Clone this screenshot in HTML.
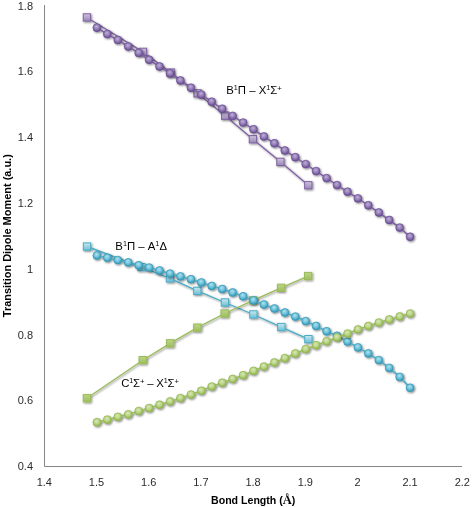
<!DOCTYPE html>
<html><head><meta charset="utf-8"><title>chart</title>
<style>
html,body{margin:0;padding:0;background:#fff;}
body{width:473px;height:507px;overflow:hidden;font-family:"Liberation Sans",sans-serif;}
svg{display:block;}
text{font-family:"Liberation Sans",sans-serif;fill:#222;}
.tx{opacity:0.999;}
.tk{font-size:11px;fill:#2b2b2b;}
.lb{font-size:11.7px;fill:#000;}
.ti{font-size:10.6px;font-weight:bold;fill:#000;}
</style></head><body>
<svg width="473" height="507" viewBox="0 0 473 507">
<defs>
<radialGradient id="cp" cx="0.45" cy="0.36" r="0.62"><stop offset="0" stop-color="#bfb1d5"/><stop offset="0.55" stop-color="#927bb5"/><stop offset="1" stop-color="#694d92"/></radialGradient>
<linearGradient id="sp" x1="0" y1="0" x2="0" y2="1"><stop offset="0" stop-color="#cdc3dc"/><stop offset="1" stop-color="#9a86b9"/></linearGradient>
<radialGradient id="cb" cx="0.45" cy="0.36" r="0.62"><stop offset="0" stop-color="#b2e1ee"/><stop offset="0.55" stop-color="#69c1da"/><stop offset="1" stop-color="#3896b4"/></radialGradient>
<linearGradient id="sb" x1="0" y1="0" x2="0" y2="1"><stop offset="0" stop-color="#c9e8ef"/><stop offset="1" stop-color="#6cbfd6"/></linearGradient>
<radialGradient id="cg" cx="0.45" cy="0.36" r="0.62"><stop offset="0" stop-color="#d8e8b9"/><stop offset="0.55" stop-color="#b7d382"/><stop offset="1" stop-color="#90b34f"/></radialGradient>
<linearGradient id="sg" x1="0" y1="0" x2="0" y2="1"><stop offset="0" stop-color="#bcd48a"/><stop offset="1" stop-color="#9dbe5c"/></linearGradient>
<filter id="sh" x="-20%" y="-20%" width="150%" height="150%"><feGaussianBlur in="SourceAlpha" stdDeviation="1.15"/><feOffset dx="0.8" dy="1.4"/><feComponentTransfer><feFuncA type="linear" slope="0.5"/></feComponentTransfer><feMerge><feMergeNode/><feMergeNode in="SourceGraphic"/></feMerge></filter>
</defs>
<rect width="473" height="507" fill="#fff"/>
<path d="M44.5 5V466.5H462" fill="none" stroke="#868686" stroke-width="1"/>
<g class="tx">
<text class="tk" x="33" y="9.55" text-anchor="end">1.8</text>
<text class="tk" x="33" y="75.36" text-anchor="end">1.6</text>
<text class="tk" x="33" y="141.18" text-anchor="end">1.4</text>
<text class="tk" x="33" y="206.99" text-anchor="end">1.2</text>
<text class="tk" x="33" y="272.81" text-anchor="end">1</text>
<text class="tk" x="33" y="338.62" text-anchor="end">0.8</text>
<text class="tk" x="33" y="404.44" text-anchor="end">0.6</text>
<text class="tk" x="33" y="470.25" text-anchor="end">0.4</text>
<text class="tk" x="44.30" y="486.2" text-anchor="middle">1.4</text>
<text class="tk" x="96.50" y="486.2" text-anchor="middle">1.5</text>
<text class="tk" x="148.70" y="486.2" text-anchor="middle">1.6</text>
<text class="tk" x="200.90" y="486.2" text-anchor="middle">1.7</text>
<text class="tk" x="253.10" y="486.2" text-anchor="middle">1.8</text>
<text class="tk" x="305.30" y="486.2" text-anchor="middle">1.9</text>
<text class="tk" x="357.50" y="486.2" text-anchor="middle">2</text>
<text class="tk" x="410.10" y="486.2" text-anchor="middle">2.1</text>
<text class="tk" x="462.30" y="486.2" text-anchor="middle">2.2</text>
<text class="ti" style="font-size:11px" transform="translate(10.7,235.7) rotate(-90)" text-anchor="middle" textLength="163" lengthAdjust="spacing">Transition Dipole Moment (a.u.)</text>
<text class="ti" x="253.2" y="504.1" text-anchor="middle">Bond Length (<tspan font-family="Liberation Serif" font-size="12.5px">Å</tspan>)</text>
</g>
<g filter="url(#sh)"><polyline fill="none" stroke="#8064A2" stroke-width="1.35" points="86.9,17.5 142.9,51.9 170.7,72.5 197.5,93.3 225.1,115.8 252.9,139.2 280.4,161.8 308.3,185.2"/><rect x="83.25" y="13.80" width="7.3" height="7.3" fill="url(#sp)" stroke="#8064A2" stroke-width="1"/><rect x="139.25" y="48.20" width="7.3" height="7.3" fill="url(#sp)" stroke="#8064A2" stroke-width="1"/><rect x="167.05" y="68.90" width="7.3" height="7.3" fill="url(#sp)" stroke="#8064A2" stroke-width="1"/><rect x="193.85" y="89.70" width="7.3" height="7.3" fill="url(#sp)" stroke="#8064A2" stroke-width="1"/><rect x="221.45" y="112.10" width="7.3" height="7.3" fill="url(#sp)" stroke="#8064A2" stroke-width="1"/><rect x="249.25" y="135.60" width="7.3" height="7.3" fill="url(#sp)" stroke="#8064A2" stroke-width="1"/><rect x="276.75" y="158.20" width="7.3" height="7.3" fill="url(#sp)" stroke="#8064A2" stroke-width="1"/><rect x="304.65" y="181.60" width="7.3" height="7.3" fill="url(#sp)" stroke="#8064A2" stroke-width="1"/></g>
<g filter="url(#sh)"><polyline fill="none" stroke="#4BACC6" stroke-width="1.35" points="87.0,246.5 141.5,267.1 169.9,278.4 197.3,290.9 224.9,302.5 253.4,314.5 281.3,327.1 308.4,339.2"/><rect x="83.35" y="242.90" width="7.3" height="7.3" fill="url(#sb)" stroke="#4BACC6" stroke-width="1"/><rect x="137.85" y="263.40" width="7.3" height="7.3" fill="url(#sb)" stroke="#4BACC6" stroke-width="1"/><rect x="166.25" y="274.70" width="7.3" height="7.3" fill="url(#sb)" stroke="#4BACC6" stroke-width="1"/><rect x="193.65" y="287.20" width="7.3" height="7.3" fill="url(#sb)" stroke="#4BACC6" stroke-width="1"/><rect x="221.25" y="298.80" width="7.3" height="7.3" fill="url(#sb)" stroke="#4BACC6" stroke-width="1"/><rect x="249.75" y="310.80" width="7.3" height="7.3" fill="url(#sb)" stroke="#4BACC6" stroke-width="1"/><rect x="277.65" y="323.40" width="7.3" height="7.3" fill="url(#sb)" stroke="#4BACC6" stroke-width="1"/><rect x="304.75" y="335.50" width="7.3" height="7.3" fill="url(#sb)" stroke="#4BACC6" stroke-width="1"/></g>
<g filter="url(#sh)"><polyline fill="none" stroke="#9BBB59" stroke-width="1.35" points="86.9,398.2 142.7,360.2 170.1,343.4 197.3,327.7 224.6,313.5 253.1,300.4 281.0,287.9 308.1,276.1"/><rect x="83.25" y="394.60" width="7.3" height="7.3" fill="url(#sg)" stroke="#9BBB59" stroke-width="1"/><rect x="139.05" y="356.50" width="7.3" height="7.3" fill="url(#sg)" stroke="#9BBB59" stroke-width="1"/><rect x="166.45" y="339.70" width="7.3" height="7.3" fill="url(#sg)" stroke="#9BBB59" stroke-width="1"/><rect x="193.65" y="324.00" width="7.3" height="7.3" fill="url(#sg)" stroke="#9BBB59" stroke-width="1"/><rect x="220.95" y="309.80" width="7.3" height="7.3" fill="url(#sg)" stroke="#9BBB59" stroke-width="1"/><rect x="249.45" y="296.70" width="7.3" height="7.3" fill="url(#sg)" stroke="#9BBB59" stroke-width="1"/><rect x="277.35" y="284.20" width="7.3" height="7.3" fill="url(#sg)" stroke="#9BBB59" stroke-width="1"/><rect x="304.45" y="272.40" width="7.3" height="7.3" fill="url(#sg)" stroke="#9BBB59" stroke-width="1"/></g>
<g filter="url(#sh)"><polyline fill="none" stroke="#8064A2" stroke-width="1.6" points="96.9,27.7 107.3,34.1 117.8,40.0 128.2,46.5 138.7,52.9 149.1,59.8 159.5,66.5 170.0,73.4 180.4,80.5 190.9,87.7 201.3,94.6 211.7,101.7 222.2,108.8 232.6,115.9 243.1,122.6 253.5,129.3 263.9,136.5 274.4,143.3 284.8,150.5 295.3,157.2 305.7,164.1 316.1,171.1 326.6,178.1 337.0,185.1 347.5,191.7 357.9,198.4 368.3,205.3 378.8,212.5 389.2,220.0 399.7,227.6 410.1,236.8"/><circle cx="96.9" cy="27.7" r="3.95" fill="url(#cp)" stroke="#694d92" stroke-width="0.7"/><circle cx="107.3" cy="34.1" r="3.95" fill="url(#cp)" stroke="#694d92" stroke-width="0.7"/><circle cx="117.8" cy="40.0" r="3.95" fill="url(#cp)" stroke="#694d92" stroke-width="0.7"/><circle cx="128.2" cy="46.5" r="3.95" fill="url(#cp)" stroke="#694d92" stroke-width="0.7"/><circle cx="138.7" cy="52.9" r="3.95" fill="url(#cp)" stroke="#694d92" stroke-width="0.7"/><circle cx="149.1" cy="59.8" r="3.95" fill="url(#cp)" stroke="#694d92" stroke-width="0.7"/><circle cx="159.5" cy="66.5" r="3.95" fill="url(#cp)" stroke="#694d92" stroke-width="0.7"/><circle cx="170.0" cy="73.4" r="3.95" fill="url(#cp)" stroke="#694d92" stroke-width="0.7"/><circle cx="180.4" cy="80.5" r="3.95" fill="url(#cp)" stroke="#694d92" stroke-width="0.7"/><circle cx="190.9" cy="87.7" r="3.95" fill="url(#cp)" stroke="#694d92" stroke-width="0.7"/><circle cx="201.3" cy="94.6" r="3.95" fill="url(#cp)" stroke="#694d92" stroke-width="0.7"/><circle cx="211.7" cy="101.7" r="3.95" fill="url(#cp)" stroke="#694d92" stroke-width="0.7"/><circle cx="222.2" cy="108.8" r="3.95" fill="url(#cp)" stroke="#694d92" stroke-width="0.7"/><circle cx="232.6" cy="115.9" r="3.95" fill="url(#cp)" stroke="#694d92" stroke-width="0.7"/><circle cx="243.1" cy="122.6" r="3.95" fill="url(#cp)" stroke="#694d92" stroke-width="0.7"/><circle cx="253.5" cy="129.3" r="3.95" fill="url(#cp)" stroke="#694d92" stroke-width="0.7"/><circle cx="263.9" cy="136.5" r="3.95" fill="url(#cp)" stroke="#694d92" stroke-width="0.7"/><circle cx="274.4" cy="143.3" r="3.95" fill="url(#cp)" stroke="#694d92" stroke-width="0.7"/><circle cx="284.8" cy="150.5" r="3.95" fill="url(#cp)" stroke="#694d92" stroke-width="0.7"/><circle cx="295.3" cy="157.2" r="3.95" fill="url(#cp)" stroke="#694d92" stroke-width="0.7"/><circle cx="305.7" cy="164.1" r="3.95" fill="url(#cp)" stroke="#694d92" stroke-width="0.7"/><circle cx="316.1" cy="171.1" r="3.95" fill="url(#cp)" stroke="#694d92" stroke-width="0.7"/><circle cx="326.6" cy="178.1" r="3.95" fill="url(#cp)" stroke="#694d92" stroke-width="0.7"/><circle cx="337.0" cy="185.1" r="3.95" fill="url(#cp)" stroke="#694d92" stroke-width="0.7"/><circle cx="347.5" cy="191.7" r="3.95" fill="url(#cp)" stroke="#694d92" stroke-width="0.7"/><circle cx="357.9" cy="198.4" r="3.95" fill="url(#cp)" stroke="#694d92" stroke-width="0.7"/><circle cx="368.3" cy="205.3" r="3.95" fill="url(#cp)" stroke="#694d92" stroke-width="0.7"/><circle cx="378.8" cy="212.5" r="3.95" fill="url(#cp)" stroke="#694d92" stroke-width="0.7"/><circle cx="389.2" cy="220.0" r="3.95" fill="url(#cp)" stroke="#694d92" stroke-width="0.7"/><circle cx="399.7" cy="227.6" r="3.95" fill="url(#cp)" stroke="#694d92" stroke-width="0.7"/><circle cx="410.1" cy="236.8" r="3.95" fill="url(#cp)" stroke="#694d92" stroke-width="0.7"/></g>
<g filter="url(#sh)"><polyline fill="none" stroke="#4BACC6" stroke-width="1.6" points="96.9,255.5 107.3,257.8 117.8,260.1 128.2,262.4 138.7,265.3 149.1,267.6 159.5,270.5 170.0,273.6 180.4,276.4 190.9,279.2 201.3,282.5 211.7,285.9 222.2,289.0 232.6,292.5 243.1,296.3 253.5,300.4 263.9,304.5 274.4,308.5 284.8,312.5 295.3,316.6 305.7,321.1 316.1,325.9 326.6,331.3 337.0,335.8 347.5,341.6 357.9,347.4 368.3,353.4 378.8,360.1 389.2,367.9 399.7,376.9 410.1,387.8"/><circle cx="96.9" cy="255.5" r="3.95" fill="url(#cb)" stroke="#3896b4" stroke-width="0.7"/><circle cx="107.3" cy="257.8" r="3.95" fill="url(#cb)" stroke="#3896b4" stroke-width="0.7"/><circle cx="117.8" cy="260.1" r="3.95" fill="url(#cb)" stroke="#3896b4" stroke-width="0.7"/><circle cx="128.2" cy="262.4" r="3.95" fill="url(#cb)" stroke="#3896b4" stroke-width="0.7"/><circle cx="138.7" cy="265.3" r="3.95" fill="url(#cb)" stroke="#3896b4" stroke-width="0.7"/><circle cx="149.1" cy="267.6" r="3.95" fill="url(#cb)" stroke="#3896b4" stroke-width="0.7"/><circle cx="159.5" cy="270.5" r="3.95" fill="url(#cb)" stroke="#3896b4" stroke-width="0.7"/><circle cx="170.0" cy="273.6" r="3.95" fill="url(#cb)" stroke="#3896b4" stroke-width="0.7"/><circle cx="180.4" cy="276.4" r="3.95" fill="url(#cb)" stroke="#3896b4" stroke-width="0.7"/><circle cx="190.9" cy="279.2" r="3.95" fill="url(#cb)" stroke="#3896b4" stroke-width="0.7"/><circle cx="201.3" cy="282.5" r="3.95" fill="url(#cb)" stroke="#3896b4" stroke-width="0.7"/><circle cx="211.7" cy="285.9" r="3.95" fill="url(#cb)" stroke="#3896b4" stroke-width="0.7"/><circle cx="222.2" cy="289.0" r="3.95" fill="url(#cb)" stroke="#3896b4" stroke-width="0.7"/><circle cx="232.6" cy="292.5" r="3.95" fill="url(#cb)" stroke="#3896b4" stroke-width="0.7"/><circle cx="243.1" cy="296.3" r="3.95" fill="url(#cb)" stroke="#3896b4" stroke-width="0.7"/><circle cx="253.5" cy="300.4" r="3.95" fill="url(#cb)" stroke="#3896b4" stroke-width="0.7"/><circle cx="263.9" cy="304.5" r="3.95" fill="url(#cb)" stroke="#3896b4" stroke-width="0.7"/><circle cx="274.4" cy="308.5" r="3.95" fill="url(#cb)" stroke="#3896b4" stroke-width="0.7"/><circle cx="284.8" cy="312.5" r="3.95" fill="url(#cb)" stroke="#3896b4" stroke-width="0.7"/><circle cx="295.3" cy="316.6" r="3.95" fill="url(#cb)" stroke="#3896b4" stroke-width="0.7"/><circle cx="305.7" cy="321.1" r="3.95" fill="url(#cb)" stroke="#3896b4" stroke-width="0.7"/><circle cx="316.1" cy="325.9" r="3.95" fill="url(#cb)" stroke="#3896b4" stroke-width="0.7"/><circle cx="326.6" cy="331.3" r="3.95" fill="url(#cb)" stroke="#3896b4" stroke-width="0.7"/><circle cx="337.0" cy="335.8" r="3.95" fill="url(#cb)" stroke="#3896b4" stroke-width="0.7"/><circle cx="347.5" cy="341.6" r="3.95" fill="url(#cb)" stroke="#3896b4" stroke-width="0.7"/><circle cx="357.9" cy="347.4" r="3.95" fill="url(#cb)" stroke="#3896b4" stroke-width="0.7"/><circle cx="368.3" cy="353.4" r="3.95" fill="url(#cb)" stroke="#3896b4" stroke-width="0.7"/><circle cx="378.8" cy="360.1" r="3.95" fill="url(#cb)" stroke="#3896b4" stroke-width="0.7"/><circle cx="389.2" cy="367.9" r="3.95" fill="url(#cb)" stroke="#3896b4" stroke-width="0.7"/><circle cx="399.7" cy="376.9" r="3.95" fill="url(#cb)" stroke="#3896b4" stroke-width="0.7"/><circle cx="410.1" cy="387.8" r="3.95" fill="url(#cb)" stroke="#3896b4" stroke-width="0.7"/></g>
<g filter="url(#sh)"><polyline fill="none" stroke="#9BBB59" stroke-width="1.6" points="96.9,422.3 107.3,419.7 117.8,416.9 128.2,414.4 138.7,411.1 149.1,408.1 159.5,404.8 170.0,401.5 180.4,398.2 190.9,394.6 201.3,390.8 211.7,386.6 222.2,382.8 232.6,379.0 243.1,375.2 253.5,370.9 263.9,366.6 274.4,362.5 284.8,358.2 295.3,353.5 305.7,349.1 316.1,345.2 326.6,341.3 337.0,337.4 347.5,333.6 357.9,329.5 368.3,326.0 378.8,322.6 389.2,319.5 399.7,316.5 410.1,313.6"/><circle cx="96.9" cy="422.3" r="3.95" fill="url(#cg)" stroke="#90b34f" stroke-width="0.7"/><circle cx="107.3" cy="419.7" r="3.95" fill="url(#cg)" stroke="#90b34f" stroke-width="0.7"/><circle cx="117.8" cy="416.9" r="3.95" fill="url(#cg)" stroke="#90b34f" stroke-width="0.7"/><circle cx="128.2" cy="414.4" r="3.95" fill="url(#cg)" stroke="#90b34f" stroke-width="0.7"/><circle cx="138.7" cy="411.1" r="3.95" fill="url(#cg)" stroke="#90b34f" stroke-width="0.7"/><circle cx="149.1" cy="408.1" r="3.95" fill="url(#cg)" stroke="#90b34f" stroke-width="0.7"/><circle cx="159.5" cy="404.8" r="3.95" fill="url(#cg)" stroke="#90b34f" stroke-width="0.7"/><circle cx="170.0" cy="401.5" r="3.95" fill="url(#cg)" stroke="#90b34f" stroke-width="0.7"/><circle cx="180.4" cy="398.2" r="3.95" fill="url(#cg)" stroke="#90b34f" stroke-width="0.7"/><circle cx="190.9" cy="394.6" r="3.95" fill="url(#cg)" stroke="#90b34f" stroke-width="0.7"/><circle cx="201.3" cy="390.8" r="3.95" fill="url(#cg)" stroke="#90b34f" stroke-width="0.7"/><circle cx="211.7" cy="386.6" r="3.95" fill="url(#cg)" stroke="#90b34f" stroke-width="0.7"/><circle cx="222.2" cy="382.8" r="3.95" fill="url(#cg)" stroke="#90b34f" stroke-width="0.7"/><circle cx="232.6" cy="379.0" r="3.95" fill="url(#cg)" stroke="#90b34f" stroke-width="0.7"/><circle cx="243.1" cy="375.2" r="3.95" fill="url(#cg)" stroke="#90b34f" stroke-width="0.7"/><circle cx="253.5" cy="370.9" r="3.95" fill="url(#cg)" stroke="#90b34f" stroke-width="0.7"/><circle cx="263.9" cy="366.6" r="3.95" fill="url(#cg)" stroke="#90b34f" stroke-width="0.7"/><circle cx="274.4" cy="362.5" r="3.95" fill="url(#cg)" stroke="#90b34f" stroke-width="0.7"/><circle cx="284.8" cy="358.2" r="3.95" fill="url(#cg)" stroke="#90b34f" stroke-width="0.7"/><circle cx="295.3" cy="353.5" r="3.95" fill="url(#cg)" stroke="#90b34f" stroke-width="0.7"/><circle cx="305.7" cy="349.1" r="3.95" fill="url(#cg)" stroke="#90b34f" stroke-width="0.7"/><circle cx="316.1" cy="345.2" r="3.95" fill="url(#cg)" stroke="#90b34f" stroke-width="0.7"/><circle cx="326.6" cy="341.3" r="3.95" fill="url(#cg)" stroke="#90b34f" stroke-width="0.7"/><circle cx="337.0" cy="337.4" r="3.95" fill="url(#cg)" stroke="#90b34f" stroke-width="0.7"/><circle cx="347.5" cy="333.6" r="3.95" fill="url(#cg)" stroke="#90b34f" stroke-width="0.7"/><circle cx="357.9" cy="329.5" r="3.95" fill="url(#cg)" stroke="#90b34f" stroke-width="0.7"/><circle cx="368.3" cy="326.0" r="3.95" fill="url(#cg)" stroke="#90b34f" stroke-width="0.7"/><circle cx="378.8" cy="322.6" r="3.95" fill="url(#cg)" stroke="#90b34f" stroke-width="0.7"/><circle cx="389.2" cy="319.5" r="3.95" fill="url(#cg)" stroke="#90b34f" stroke-width="0.7"/><circle cx="399.7" cy="316.5" r="3.95" fill="url(#cg)" stroke="#90b34f" stroke-width="0.7"/><circle cx="410.1" cy="313.6" r="3.95" fill="url(#cg)" stroke="#90b34f" stroke-width="0.7"/></g>
<g class="tx">
<text class="lb" transform="translate(226.2,94.0) scale(0.974,1)" style="letter-spacing:0px"><tspan>B</tspan><tspan font-size="7.4px" dy="-4.40">1</tspan><tspan dy="4.40">Π – X</tspan><tspan font-size="7.4px" dy="-4.40">1</tspan><tspan dy="4.40">Σ</tspan><tspan font-size="8px" dy="-3.30">+</tspan></text>
<text class="lb" transform="translate(115.3,249.9) scale(0.974,1)" style="letter-spacing:0px"><tspan>B</tspan><tspan font-size="7.4px" dy="-4.40">1</tspan><tspan dy="4.40">Π – A</tspan><tspan font-size="7.4px" dy="-4.40">1</tspan><tspan dy="4.40">Δ</tspan></text>
<text class="lb" transform="translate(121.2,387.0) scale(0.974,1)" style="letter-spacing:-0.2px"><tspan>C</tspan><tspan font-size="7.4px" dy="-4.40">1</tspan><tspan dy="4.40">Σ</tspan><tspan font-size="8px" dy="-3.30">+</tspan><tspan dy="3.30"> – X</tspan><tspan font-size="7.4px" dy="-4.40">1</tspan><tspan dy="4.40">Σ</tspan><tspan font-size="8px" dy="-3.30">+</tspan></text>
</g>
</svg></body></html>
